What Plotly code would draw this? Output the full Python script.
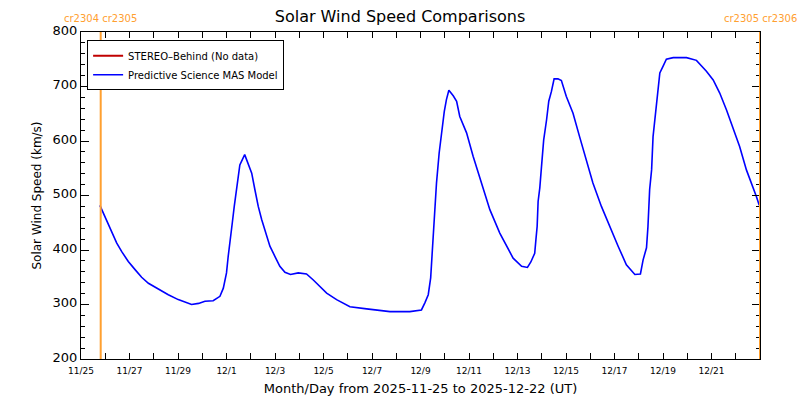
import plotly.graph_objects as go
import pandas as pd

start = pd.Timestamp("2025-11-25")

# days after 2025-11-25 00:00 UT
days = [0.78, 0.92, 1.06, 1.27, 1.47, 1.68, 1.95, 2.23, 2.5, 2.78, 3.19, 3.6, 4.01,
        4.3, 4.56, 4.85, 5.11, 5.45, 5.73, 5.87, 6.0, 6.07, 6.14, 6.24, 6.32, 6.42,
        6.55, 6.75, 6.9, 7.04, 7.17, 7.31, 7.45, 7.58, 7.79, 8.0, 8.2, 8.41, 8.64,
        8.96, 9.3, 9.58, 9.85, 10.13, 10.54, 11.09, 11.78, 12.74, 13.56, 14.04,
        14.18, 14.32, 14.42, 14.5, 14.58, 14.66, 14.77, 14.87, 14.98, 15.07, 15.17,
        15.35, 15.49, 15.62, 15.9, 16.17, 16.52, 16.86, 17.27, 17.68, 17.82, 18.17,
        18.41, 18.55, 18.71, 18.76, 18.81, 18.85, 18.92, 18.99, 19.08, 19.2, 19.29,
        19.4, 19.51, 19.67, 19.81, 20.01, 20.29, 20.56, 20.84, 21.11, 21.46, 21.8,
        22.15, 22.49, 22.84, 23.07, 23.18, 23.32, 23.38, 23.45, 23.53, 23.59, 23.7,
        23.8, 23.87, 24.0, 24.14, 24.42, 24.97, 25.38, 25.79, 26.07, 26.34, 26.62,
        26.89, 27.16, 27.44, 27.71, 27.85, 27.97]
speed = [482, 468, 452, 431, 413, 397, 379, 364, 350, 339, 328, 318, 309,
         304, 300, 302, 306, 307, 315, 330, 358, 388, 419, 450, 480, 511,
         556, 575, 556, 541, 511, 480, 456, 437, 407, 388, 370, 359, 355,
         358, 356, 345, 333, 321, 309, 296, 292, 287, 287, 290,
         303, 318, 349, 410, 474, 523, 578, 618, 654, 676, 693,
         683, 673, 645, 615, 572, 523, 474, 431, 395, 385, 370,
         368, 378, 394, 419, 443, 489, 514, 553, 602, 639, 673,
         691, 714, 714, 711, 682, 651, 608, 566, 523, 480, 443,
         407, 373, 355, 356, 382, 404, 443, 511, 547, 608, 657,
         691, 725, 737, 750, 753, 753, 748, 728, 712, 688, 657,
         624, 590, 547, 517, 498, 482]

# labelled x ticks
tick_dates = ["2025-11-25", "2025-11-27", "2025-11-29", "2025-12-01", "2025-12-03",
              "2025-12-05", "2025-12-07", "2025-12-09", "2025-12-11", "2025-12-13",
              "2025-12-15", "2025-12-17", "2025-12-19", "2025-12-21"]
tick_text = ["11/25", "11/27", "11/29", "12/1", "12/3", "12/5", "12/7", "12/9",
             "12/11", "12/13", "12/15", "12/17", "12/19", "12/21"]

# carrington rotation boundaries
cr_times = ["2025-11-25 19:30", "2025-12-23 00:00"]
cr_labels = ["cr2304 cr2305", "cr2305 cr2306"]

times = [(start + pd.Timedelta(days=d)).strftime('%Y-%m-%d %H:%M') for d in days]

fig = go.Figure()

fig.add_trace(go.Scatter(x=[None], y=[None], mode='lines', name='STEREO\u2013Behind (No data)',
                         line=dict(color='#c00000', width=2)))
fig.add_trace(go.Scatter(x=times, y=speed, mode='lines', name='Predictive Science MAS Model',
                         line=dict(color='#0000ff', width=1.6)))

for t, lab in zip(cr_times, cr_labels):
    fig.add_shape(type='line', x0=t, x1=t, y0=0, y1=1, xref='x', yref='paper',
                  line=dict(color='#ffa030', width=2))
    fig.add_annotation(x=t, y=1.0, xref='x', yref='paper', yanchor='bottom', yshift=6,
                       text=lab, showarrow=False,
                       font=dict(color='#ffa030', size=10, family='DejaVu Sans'))

fig.update_layout(
    width=800, height=400,
    paper_bgcolor='white', plot_bgcolor='white',
    margin=dict(l=81, r=40, t=32, b=41),
    font=dict(family='DejaVu Sans', color='black'),
    title=dict(text='Solar Wind Speed Comparisons', x=0.5, xanchor='center',
               y=0.972, yanchor='top', font=dict(size=16)),
    legend=dict(x=0.009, y=0.975, xanchor='left', yanchor='top',
                bordercolor='black', borderwidth=1, bgcolor='white',
                font=dict(size=10), tracegroupgap=0, itemwidth=30),
    showlegend=True,
)

fig.update_xaxes(
    type='date', automargin=False,
    range=[start.strftime('%Y-%m-%d'), (start + pd.Timedelta(days=28)).strftime('%Y-%m-%d')],
    tickmode='array', tickvals=tick_dates, ticktext=tick_text,
    ticks='inside', ticklen=6, tickcolor='black', ticklabelstandoff=3,
    minor=dict(dtick=86400000, tick0=start.strftime('%Y-%m-%d'),
               ticks='inside', ticklen=6, tickcolor='black'),
    showline=True, linecolor='black', linewidth=1, mirror='allticks',
    showgrid=False, tickfont=dict(size=9),
    title=dict(text='Month/Day from 2025-11-25 to 2025-12-22 (UT)', font=dict(size=13), standoff=9),
)
fig.update_yaxes(
    automargin=False,
    range=[200, 800], dtick=100,
    ticks='inside', ticklen=8, tickcolor='black', ticklabelshift=-2,
    minor=dict(dtick=20, ticks='inside', ticklen=4, tickcolor='black'),
    showline=True, linecolor='black', linewidth=1, mirror='allticks',
    showgrid=False, zeroline=False, tickfont=dict(size=13),
    title=dict(text='Solar Wind Speed (km/s)', font=dict(size=12), standoff=8),
)

# page body has a default margin; drop it so the figure sits at the window corner
fig.write_html("out.html", config={'displayModeBar': False},
               post_script="document.body.style.margin='0';")
